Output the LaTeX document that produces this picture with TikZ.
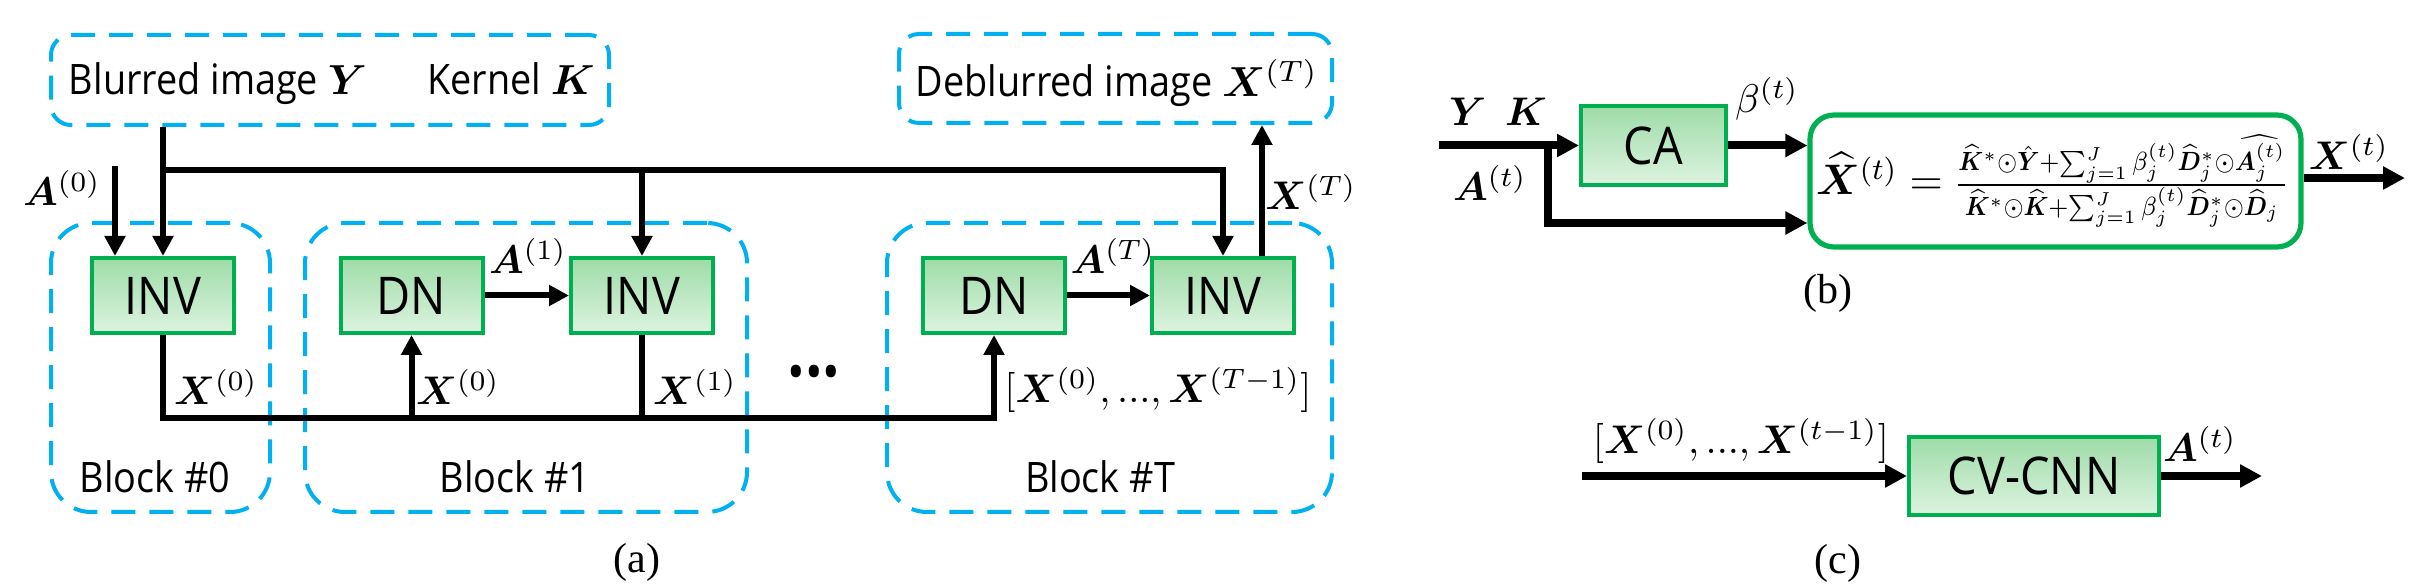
\documentclass[tikz,border=0pt]{standalone}
\usepackage{fix-cm}
\usepackage{amsmath,bm,graphicx}
\usepackage{fontspec}
\setmainfont{Open Sans}[FakeStretch=0.9]
\newfontfamily\capfont{Liberation Serif}
\usetikzlibrary{arrows.meta,calc}
\definecolor{cblue}{HTML}{00B0F0}
\definecolor{cgreen}{HTML}{00B050}
\definecolor{gtop}{HTML}{9EDCA8}
\definecolor{gbot}{HTML}{DDF3E0}
\tikzset{
  dbox/.style={draw=cblue, line width=1pt, dash pattern=on 6pt off 3.5pt, rounded corners=5pt, inner sep=0pt},
  blkbox/.style={dbox, rounded corners=10pt, minimum height=72.25pt},
  gbox/.style={draw=cgreen, line width=1pt, top color=gtop, bottom color=gbot, inner sep=0pt,
     font=\fontsize{13}{15}\selectfont},
  abox/.style={gbox, minimum width=35.5pt, minimum height=18.75pt},
  txt/.style={inner sep=0pt, font=\fontsize{10.5}{12}\selectfont},
  mlab/.style={inner sep=0pt, font=\fontsize{10}{12}\selectfont},
  figcap/.style={inner sep=0pt, font=\capfont\fontsize{10.5}{12}\selectfont},
  wire/.style={line width=1.5pt},
  conn/.style={wire, -{Triangle[length=5pt,width=5pt]}},
  wireb/.style={line width=2pt},
  connb/.style={wireb, -{Triangle[length=5.5pt,width=5.5pt]}},
}
\begin{document}
\begin{tikzpicture}[x=0.25pt,y=-0.25pt]
\useasboundingbox (0,0) rectangle (2414,588);

% ---------------- (a) ----------------
\node[dbox, minimum width=139.5pt, minimum height=22.5pt] (inbox) at (330,80) {};
\node[txt, anchor=base] (blurtxt) at (218,95) {Blurred image $\boldsymbol{Y}$};
\node[txt, anchor=base] (kertxt) at (511,95) {Kernel $\boldsymbol{K}$};
\node[dbox, minimum width=108.25pt, minimum height=22.25pt] (outbox) at (1115.5,78.5) {};
\node[txt, anchor=base] (debtxt) at (1117,97) {Deblurred image $\boldsymbol{X}^{(T)}$};

\node[blkbox, minimum width=54.75pt] (blk0) at (160.5,367.5) {};
\node[blkbox, minimum width=110.5pt] (blk1) at (526,367.5) {};
\node[blkbox, minimum width=111.25pt] (blkT) at (1109.5,367.5) {};

\node[abox] (inv0) at (163,295.5) {INV};
\node[abox] (dn1) at (411.5,295.5) {DN};
\node[abox] (inv1) at (642,295.5) {INV};
\node[abox] (dnT) at (994,295.5) {DN};
\node[abox] (invT) at (1223,295.5) {INV};

\node[txt, anchor=base] (b0lab) at (155,493) {Block \#0};
\node[txt, anchor=base] (b1lab) at (515,493) {Block \#1};
\node[txt, anchor=base] (bTlab) at (1100,493) {Block \#T};

\node[mlab] (a0lab) at (62,188) {$\boldsymbol{A}^{(0)}$};
\node[mlab] (a1lab) at (528,256) {$\boldsymbol{A}^{(1)}$};
\node[mlab] (aTlab) at (1113,256) {$\boldsymbol{A}^{(T)}$};
\node[mlab] (xTlab) at (1311,192) {$\boldsymbol{X}^{(T)}$};
\node[mlab] (x0lab) at (216,387) {$\boldsymbol{X}^{(0)}$};
\node[mlab] (x0blab) at (458,387) {$\boldsymbol{X}^{(0)}$};
\node[mlab] (x1lab) at (695,387) {$\boldsymbol{X}^{(1)}$};
\node[mlab] (xlistlab) at (1158,390) {$[\boldsymbol{X}^{(0)},...,\boldsymbol{X}^{(T-1)}]$};
\node[inner sep=0pt, font=\fontsize{13}{15}\selectfont] (dots) at (814,378) {\textbullet\textbullet\textbullet};
\node[figcap] (capa) at (637,562) {(a)};

\coordinate (a0s) at (115,166);
\coordinate (jtop) at (163,170);
\coordinate (bot) at (163,418);
\coordinate (outfoot) at ([xshift=9.75pt]invT.north);

\draw[conn] (inv0.north |- inbox.south) -- (inv0.north);
\draw[conn] (jtop) -| (invT.north);
\draw[conn] (inv1.north |- jtop) -- (inv1.north);
\draw[conn] (a0s) -- (a0s |- inv0.north);
\draw[conn] (outfoot) -- (outfoot |- outbox.south);
\draw[conn] (inv0.south) |- (dnT.south |- bot) -- (dnT.south);
\draw[conn] (dn1.south |- bot) -- (dn1.south);
\draw[wire] (inv1.south) -- (inv1.south |- bot);
\draw[conn] (dn1.east) -- (inv1.west);
\draw[conn] (dnT.east) -- (invT.west);

% ---------------- (b) ----------------
\node[gbox, minimum width=36.25pt, minimum height=19.75pt] (ca) at (1653.5,145.5) {CA};
\node[draw=cgreen, line width=1.3pt, rounded corners=6pt, fill=white, minimum width=122.75pt,
      minimum height=33pt, inner sep=0pt] (fbox) at (2055.5,181) {};
\node[inner sep=0pt, font=\fontsize{11.5}{14}\selectfont] (formula) at (2052.5,181)
  {\resizebox{118.25pt}{!}{$\widehat{\boldsymbol{X}}^{(t)}=\resizebox*{90pt}{25pt}{$\frac{\widehat{\boldsymbol{K}}^{*}\odot\hat{\boldsymbol{Y}}+\sum_{j=1}^{J}\beta_j^{(t)}\widehat{\boldsymbol{D}}_j^{*}\odot\widehat{\boldsymbol{A}_j^{(t)}}}{\widehat{\boldsymbol{K}}^{*}\odot\widehat{\boldsymbol{K}}+\sum_{j=1}^{J}\beta_j^{(t)}\widehat{\boldsymbol{D}}_j^{*}\odot\widehat{\boldsymbol{D}}_j}$}$}};
\node[mlab] (yklab) at (1498,112) {$\boldsymbol{Y}\ \ \boldsymbol{K}$};
\node[mlab] (atlab) at (1490,183) {$\boldsymbol{A}^{(t)}$};
\node[mlab] (betalab) at (1767,99) {$\beta^{(t)}$};
\node[mlab] (xtlab) at (2349,152) {$\boldsymbol{X}^{(t)}$};
\node[figcap] (capb) at (1828,293) {(b)};

\coordinate (bin) at (1439,145.5);
\coordinate (bbr) at (1548,145.5);
\coordinate (fin2) at (1548,223);
\coordinate (bout) at (2405,178);
\draw[connb] (bin) -- (ca.west);
\draw[connb] (bbr) -- (fin2) -- (fin2 -| fbox.west);
\draw[connb] (ca.east) -- (ca.east -| fbox.west);
\draw[connb] (bout -| fbox.east) -- (bout);

% ---------------- (c) ----------------
\node[gbox, minimum width=62.5pt, minimum height=19.5pt] (cnn) at (2034,476) {CV-CNN};
\node[mlab] (clistlab) at (1741,441) {$[\boldsymbol{X}^{(0)},...,\boldsymbol{X}^{(t-1)}]$};
\node[mlab] (catlab) at (2200,444) {$\boldsymbol{A}^{(t)}$};
\node[figcap] (capc) at (1838,563) {(c)};
\coordinate (cin) at (1582,476);
\coordinate (cout) at (2262,476);
\draw[connb] (cin) -- (cnn.west);
\draw[connb] (cnn.east) -- (cout);
\end{tikzpicture}
\end{document}
